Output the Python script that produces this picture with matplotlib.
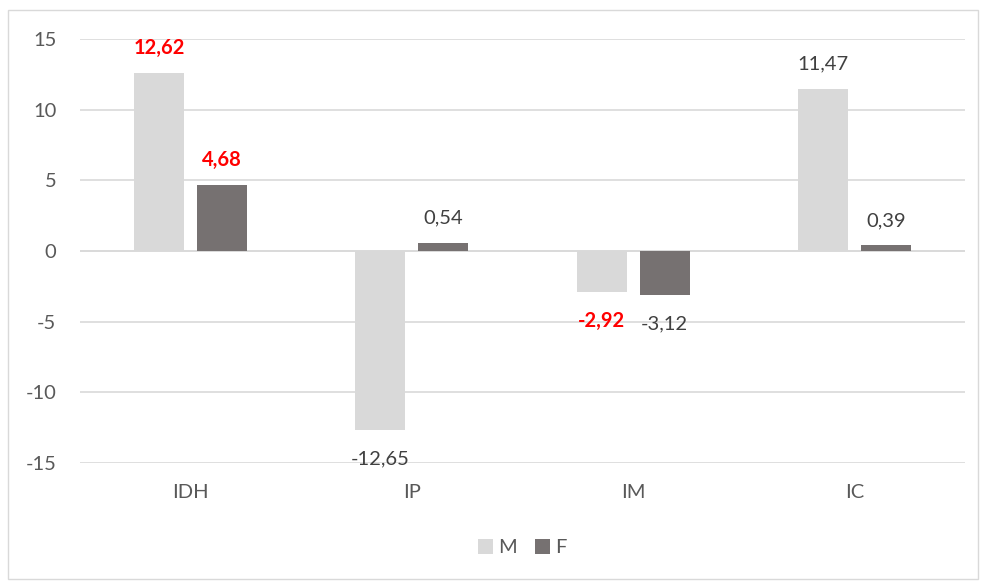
import numpy as np
import matplotlib.pyplot as plt
from matplotlib.patches import Rectangle

# dados
categorias = ["IDH", "IP", "IM", "IC"]
valores_m = [12.62, -12.65, -2.92, 11.47]
valores_f = [4.68, 0.54, -3.12, 0.39]
destaque_m = [True, False, True, False]
destaque_f = [True, False, False, False]

cor_m = "#D9D9D9"
cor_f = "#767171"
cor_texto = "#595959"

plt.rcParams["font.family"] = ["Lato", "DejaVu Sans"]
plt.rcParams["axes.unicode_minus"] = False

fig = plt.figure(figsize=(9.85, 5.83), dpi=100)
ax = fig.add_axes([80 / 985, 1 - 463 / 583, 885 / 985, 424 / 583])

# moldura externa do gráfico
fig.patches.append(Rectangle((8 / 985, 4 / 583), 970 / 985, 569 / 583,
                             transform=fig.transFigure, fill=False,
                             edgecolor="#D9D9D9", linewidth=1))

x = np.arange(len(categorias))
larg = 0.226
desl = 0.1425

barras_m = ax.bar(x - desl, valores_m, larg, color=cor_m, label="M", zorder=2)
barras_f = ax.bar(x + desl, valores_f, larg, color=cor_f, label="F", zorder=2)


def rotular(barras, valores, destaques):
    for b, v, d in zip(barras, valores, destaques):
        texto = f"{v:.2f}".replace(".", ",")
        dy = 18 if v >= 0 else -21
        ax.annotate(texto, (b.get_x() + b.get_width() / 2, v),
                    xytext=(0, dy), textcoords="offset points",
                    ha="center", va="center", fontsize=14.5,
                    color="#FF0000" if d else "#404040",
                    fontweight="bold" if d else "normal", zorder=3)


rotular(barras_m, valores_m, destaque_m)
rotular(barras_f, valores_f, destaque_f)

ax.set_xlim(-0.5, 3.5)
ax.set_ylim(-15, 15)
ax.set_yticks(np.arange(-15, 16, 5))
ax.set_xticks(x)
ax.set_xticklabels(categorias)
ax.grid(axis="y", color="#D9D9D9", linewidth=1.2, zorder=0)
ax.axhline(0, color="#D9D9D9", linewidth=1.2, zorder=1)
for s in ax.spines.values():
    s.set_visible(False)
ax.tick_params(length=0, labelsize=14.5, colors=cor_texto)
ax.tick_params(axis="x", pad=15)
ax.tick_params(axis="y", pad=17)

ax.legend(loc="center", bbox_to_anchor=(0.5, -0.2), ncol=2, frameon=False,
          fontsize=14.5, labelcolor=cor_texto, handlelength=0.75,
          handleheight=0.75, handletextpad=0.25, columnspacing=0.9)

fig.savefig("out.png", dpi=100, facecolor="white")
